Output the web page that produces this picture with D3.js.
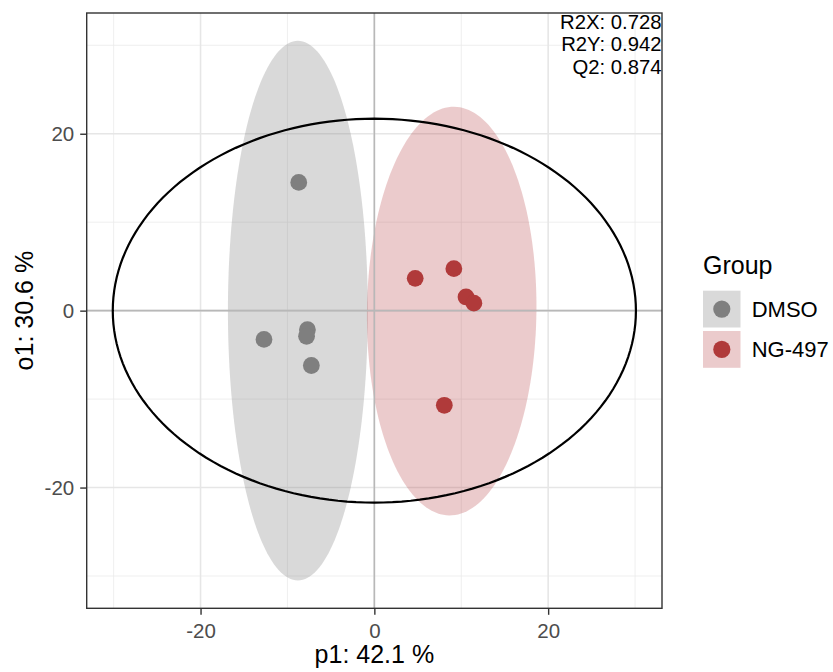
<!DOCTYPE html>
<html>
<head>
<meta charset="utf-8">
<script src="https://cdn.jsdelivr.net/npm/d3@7"></script>
<style>
  html, body { margin: 0; padding: 0; background: #ffffff; }
  svg { display: block; font-family: "Liberation Sans", Arial, sans-serif; }
</style>
</head>
<body>
<svg id="chart" width="833" height="672"></svg>
<script>
// OPLS-DA score plot: predictive component p1 vs orthogonal component o1
const groups = ["DMSO", "NG-497"];
const pointColors = ["#7f7f7f", "#b03a3a"];
const fillColors = ["rgba(128,128,128,0.30)", "rgba(178,55,57,0.26)"];

// sample scores per group
const dmsoP1 = [-8.7, -12.7, -7.7, -7.8, -7.25];
const dmsoO1 = [14.5, -3.25, -2.15, -2.9, -6.2];
const ngP1 = [4.7, 9.15, 10.55, 11.45, 8.05];
const ngO1 = [3.65, 4.75, 1.55, 0.85, -10.7];

// 95% confidence ellipses per group: centre, semi-axes, tilt (deg)
const ellCx = [-8.8, 8.9];
const ellCy = [0.0, -0.05];
const ellRx = [8.05, 9.75];
const ellRy = [30.5, 23.1];
const ellTilt = [0, -0.7];

// Hotelling T2 ellipse semi-axes
const t2A = 30.1;
const t2B = 21.7;

const xTicks = [-20, 0, 20];
const yTicks = [-20, 0, 20];
const xMinor = [-30, -10, 10, 30];
const yMinor = [-30, -10, 10, 30];

const statLines = ["R2X: 0.728", "R2Y: 0.942", "Q2: 0.874"];
const xTitle = "p1: 42.1 %";
const yTitle = "o1: 30.6 %";
const legendTitle = "Group";

const panel = { left: 86.7, right: 662, top: 13, bottom: 608.3 };
const svg = d3.select("#chart");

const x = d3.scaleLinear().domain([-33.1, 33.1]).range([panel.left, panel.right]);
const y = d3.scaleLinear().domain([-33.65, 33.65]).range([panel.bottom, panel.top]);

svg.append("defs").append("clipPath").attr("id", "panelClip")
  .append("rect")
  .attr("x", panel.left).attr("y", panel.top)
  .attr("width", panel.right - panel.left).attr("height", panel.bottom - panel.top);

const plot = svg.append("g").attr("clip-path", "url(#panelClip)");

// grid
plot.selectAll(".vminor").data(xMinor).join("line")
  .attr("x1", d => x(d)).attr("x2", d => x(d))
  .attr("y1", panel.top).attr("y2", panel.bottom)
  .attr("stroke", "#ebebeb").attr("stroke-width", 0.8);
plot.selectAll(".hminor").data(yMinor).join("line")
  .attr("y1", d => y(d)).attr("y2", d => y(d))
  .attr("x1", panel.left).attr("x2", panel.right)
  .attr("stroke", "#ebebeb").attr("stroke-width", 0.8);
plot.selectAll(".vmajor").data(xTicks).join("line")
  .attr("x1", d => x(d)).attr("x2", d => x(d))
  .attr("y1", panel.top).attr("y2", panel.bottom)
  .attr("stroke", "#e6e6e6").attr("stroke-width", 1.6);
plot.selectAll(".hmajor").data(yTicks).join("line")
  .attr("y1", d => y(d)).attr("y2", d => y(d))
  .attr("x1", panel.left).attr("x2", panel.right)
  .attr("stroke", "#e6e6e6").attr("stroke-width", 1.6);

// ellipse outline in data space
const angles = d3.range(0, 361, 2);
function ellipsePath(cx, cy, rx, ry, tiltDeg) {
  const t = tiltDeg * Math.PI / 180;
  const pts = angles.map(a => {
    const r = a * Math.PI / 180;
    const ex = rx * Math.cos(r), ey = ry * Math.sin(r);
    return [cx + ex * Math.cos(t) - ey * Math.sin(t), cy + ex * Math.sin(t) + ey * Math.cos(t)];
  });
  return d3.line().x(d => x(d[0])).y(d => y(d[1])).curve(d3.curveLinearClosed)(pts);
}

groups.forEach((g, i) => {
  plot.append("path")
    .attr("d", ellipsePath(ellCx[i], ellCy[i], ellRx[i], ellRy[i], ellTilt[i]))
    .attr("fill", fillColors[i]).attr("stroke", "none");
});

// zero reference lines
plot.append("line")
  .attr("x1", x(0)).attr("x2", x(0)).attr("y1", panel.top).attr("y2", panel.bottom)
  .attr("stroke", "#b8b8b8").attr("stroke-width", 1.6);
plot.append("line")
  .attr("y1", y(0)).attr("y2", y(0)).attr("x1", panel.left).attr("x2", panel.right)
  .attr("stroke", "#b8b8b8").attr("stroke-width", 1.6);

// T2 ellipse
plot.append("path")
  .attr("d", ellipsePath(0, 0, t2A, t2B, 0))
  .attr("fill", "none").attr("stroke", "#000000").attr("stroke-width", 2.2);

// sample points
const series = [
  { p1: dmsoP1, o1: dmsoO1 },
  { p1: ngP1, o1: ngO1 }
];
series.forEach((s, i) => {
  plot.selectAll(".pt" + i).data(s.p1.map((v, k) => [v, s.o1[k]])).join("circle")
    .attr("cx", d => x(d[0])).attr("cy", d => y(d[1])).attr("r", 8.4)
    .attr("fill", pointColors[i]);
});

// panel border
svg.append("rect")
  .attr("x", panel.left).attr("y", panel.top)
  .attr("width", panel.right - panel.left).attr("height", panel.bottom - panel.top)
  .attr("fill", "none").attr("stroke", "#333333").attr("stroke-width", 1.4);

// axes
const fmt = d => String(d);
const xAxis = svg.append("g").attr("transform", `translate(0,${panel.bottom})`)
  .call(d3.axisBottom(x).tickValues(xTicks).tickSize(6.5).tickPadding(8).tickFormat(fmt));
const yAxis = svg.append("g").attr("transform", `translate(${panel.left},0)`)
  .call(d3.axisLeft(y).tickValues(yTicks).tickSize(6.5).tickPadding(6).tickFormat(fmt));
[xAxis, yAxis].forEach(a => {
  a.select(".domain").remove();
  a.selectAll(".tick line").attr("stroke", "#333333").attr("stroke-width", 1.4);
  a.selectAll(".tick text").attr("fill", "#4d4d4d").attr("font-size", 20.5)
    .attr("font-family", "'Liberation Sans', Arial, sans-serif");
});
xAxis.selectAll(".tick text").attr("dy", "0.72em");

// axis titles
svg.append("text").attr("x", x(0)).attr("y", 663)
  .attr("text-anchor", "middle").attr("font-size", 25).attr("fill", "#000")
  .text(xTitle);
svg.append("text")
  .attr("transform", `translate(33,${y(0)}) rotate(-90)`)
  .attr("text-anchor", "middle").attr("font-size", 25).attr("fill", "#000")
  .text(yTitle);

// model statistics
svg.selectAll(".stat").data(statLines).join("text")
  .attr("x", panel.right - 0.5).attr("y", (d, i) => 28.5 + i * 22.9)
  .attr("text-anchor", "end").attr("font-size", 20.3).attr("fill", "#000")
  .text(d => d);

// legend
const lg = svg.append("g");
lg.append("text").attr("x", 703).attr("y", 274)
  .attr("font-size", 25).attr("fill", "#000").text(legendTitle);
groups.forEach((g, i) => {
  const top = 290.7 + i * 40.3;
  lg.append("rect").attr("x", 703).attr("y", top).attr("width", 37.5).attr("height", 36.8)
    .attr("fill", fillColors[i]);
  lg.append("circle").attr("cx", 721.8).attr("cy", top + 18.4).attr("r", 8.6)
    .attr("fill", pointColors[i]);
  lg.append("text").attr("x", 751.7).attr("y", top + 26)
    .attr("font-size", 22).attr("fill", "#000").text(g);
});
</script>
</body>
</html>
